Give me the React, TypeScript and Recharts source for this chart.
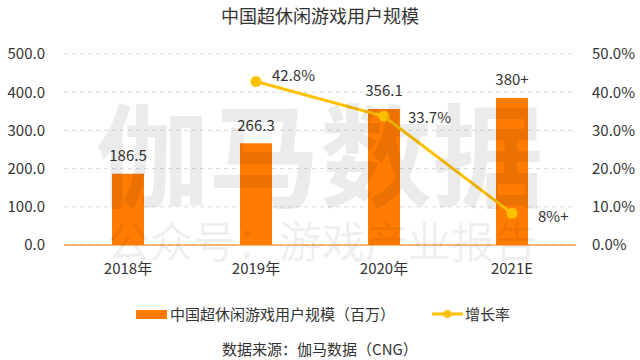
import React from "react";
import {
  ComposedChart,
  Bar,
  Line,
  XAxis,
  YAxis,
  CartesianGrid,
  LabelList,
} from "recharts";

const FONT = '"Noto Sans CJK SC", "Noto Sans", sans-serif';
const BAR_COLOR = "#FF7C00";
const LINE_COLOR = "#FFC000";
const TEXT = "#333333";

const years = ["2018年", "2019年", "2020年", "2021E"];
const users = [186.5, 266.3, 356.1, 385];
const userLabels = ["186.5", "266.3", "356.1", "380+"];
const growth = [null, 42.8, 33.7, 8.3];
const growthLabels = ["", "42.8%", "33.7%", "8%+"];
const leftTicks = [0, 100, 200, 300, 400, 500];
const rightTicks = [0, 10, 20, 30, 40, 50];

// where each growth label sits relative to its dot
const growthLabelOffset = [
  { dx: 0, dy: 0 },
  { dx: 16, dy: -7 },
  { dx: 24, dy: 0 },
  { dx: 26, dy: 2 },
];

const data = years.map((year, i) => ({
  year,
  users: users[i],
  growth: growth[i],
}));

const BarLabel = (props: any) => {
  const { x, y, width, index } = props;
  return (
    <text
      x={x + width / 2}
      y={y - 19}
      textAnchor="middle"
      dominantBaseline="central"
      fontSize={15}
      fill={TEXT}
      fontFamily={FONT}
    >
      {userLabels[index]}
    </text>
  );
};

const GrowthLabel = (props: any) => {
  const { x, y, index } = props;
  if (!growthLabels[index]) return null;
  const off = growthLabelOffset[index];
  return (
    <text
      x={x + off.dx}
      y={y + off.dy}
      textAnchor="start"
      dominantBaseline="central"
      fontSize={15}
      fill={TEXT}
      fontFamily={FONT}
    >
      {growthLabels[index]}
    </text>
  );
};

export default function App() {
  const tick = { fontSize: 15, fill: TEXT, fontFamily: FONT };
  return (
    <div
      style={{
        position: "absolute",
        left: 0,
        top: 0,
        width: 640,
        height: 360,
        background: "#fff",
        fontFamily: FONT,
        color: TEXT,
      }}
    >
      <div
        style={{
          position: "absolute",
          top: 3,
          width: 640,
          textAlign: "center",
          fontSize: 18,
          lineHeight: "24px",
        }}
      >
        中国超休闲游戏用户规模
      </div>

      <ComposedChart
        width={640}
        height={300}
        data={data}
        margin={{ top: 54, right: 0, bottom: 25, left: 0 }}
        style={{ position: "absolute", top: 0, left: 0 }}
      >
        <CartesianGrid
          vertical={false}
          stroke="#D9D9D9"
          strokeDasharray="4 4"
          yAxisId="left"
        />
        <XAxis
          dataKey="year"
          height={30}
          tickLine={false}
          axisLine={{ stroke: BAR_COLOR, strokeWidth: 1 }}
          tick={tick}
          tickMargin={12}
        />
        <YAxis
          yAxisId="left"
          width={64}
          domain={[0, 500]}
          ticks={leftTicks}
          tickFormatter={(v: number) => v.toFixed(1)}
          axisLine={false}
          tickLine={false}
          tick={tick}
          tickMargin={13}
        />
        <YAxis
          yAxisId="right"
          orientation="right"
          width={64}
          domain={[0, 50]}
          ticks={rightTicks}
          tickFormatter={(v: number) => v.toFixed(1) + "%"}
          axisLine={false}
          tickLine={false}
          tick={tick}
          tickMargin={10}
        />
        <Bar
          yAxisId="left"
          dataKey="users"
          fill={BAR_COLOR}
          barSize={32}
          isAnimationActive={false}
        >
          <LabelList dataKey="users" content={<BarLabel />} />
        </Bar>
        <Line
          yAxisId="right"
          dataKey="growth"
          stroke={LINE_COLOR}
          strokeWidth={3}
          dot={{ r: 4, fill: LINE_COLOR, stroke: LINE_COLOR }}
          isAnimationActive={false}
        >
          <LabelList dataKey="growth" content={<GrowthLabel />} />
        </Line>
      </ComposedChart>

      {/* watermark */}
      <svg
        width={640}
        height={300}
        style={{ position: "absolute", left: 0, top: 0, pointerEvents: "none" }}
      >
        <text
          x={320}
          y={150}
          textAnchor="middle"
          dominantBaseline="central"
          fontSize={112}
          fontWeight={700}
          fontFamily={FONT}
          fill="rgba(0,0,0,0.08)"
        >
          伽马数据
        </text>
        <text
          x={322}
          y={239}
          textAnchor="middle"
          dominantBaseline="central"
          fontSize={43}
          fontFamily={FONT}
          fill="rgba(0,0,0,0.08)"
        >
          公众号：游戏产业报告
        </text>
      </svg>

      {/* legend */}
      <div
        style={{
          position: "absolute",
          top: 303,
          left: 0,
          width: 640,
          height: 22,
          fontSize: 15,
          lineHeight: "22px",
        }}
      >
        <div
          style={{
            position: "absolute",
            left: 136,
            top: 7,
            width: 31,
            height: 9,
            background: BAR_COLOR,
          }}
        />
        <div style={{ position: "absolute", left: 170, top: 0 }}>
          中国超休闲游戏用户规模（百万）
        </div>
        <svg
          width={32}
          height={22}
          style={{ position: "absolute", left: 432, top: 0 }}
        >
          <line x1={0} y1={11} x2={31} y2={11} stroke={LINE_COLOR} strokeWidth={3} />
          <circle cx={15.5} cy={11} r={4} fill={LINE_COLOR} />
        </svg>
        <div style={{ position: "absolute", left: 465, top: 0 }}>增长率</div>
      </div>

      <div
        style={{
          position: "absolute",
          top: 338,
          width: 640,
          textAlign: "center",
          fontSize: 15,
          lineHeight: "22px",
        }}
      >
        数据来源：伽马数据（CNG）
      </div>
    </div>
  );
}
